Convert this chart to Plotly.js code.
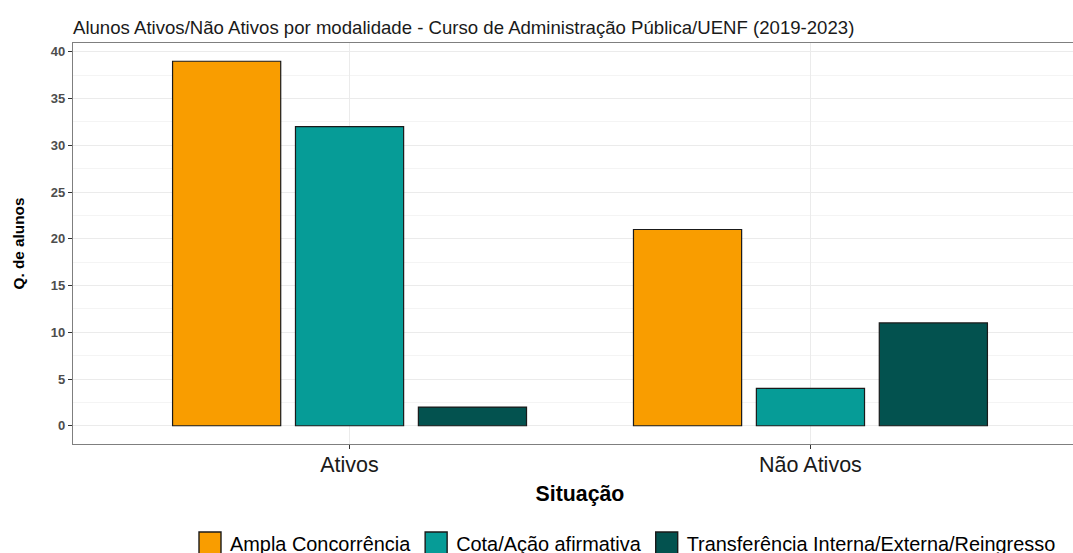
<!DOCTYPE html>
<html>
<head>
<meta charset="utf-8">
<script src="https://cdn.plot.ly/plotly-3.0.1.min.js"></script>
<style>
html, body { margin: 0; padding: 0; overflow: hidden; background: #fff; }
#chart { width: 1088px; height: 553px; }
</style>
</head>
<body>
<div id="chart"></div>
<script>
const categories = ["Ativos", "Não Ativos"];
const seriesNames = ["Ampla Concorrência", "Cota/Ação afirmativa", "Transferência Interna/Externa/Reingresso"];
const amplaConcorrencia = [39, 21];
const cotaAcaoAfirmativa = [32, 4];
const transferencia = [2, 11];
const seriesValues = [amplaConcorrencia, cotaAcaoAfirmativa, transferencia];
const seriesColors = ["#F99D00", "#069C97", "#03524F"];

const traces = seriesNames.map((name, i) => ({
  type: "bar",
  name: name,
  x: categories,
  y: seriesValues[i],
  marker: { color: seriesColors[i], line: { color: "#1A1A1A", width: 1.2 } },
  hoverinfo: "x+y+name"
}));

const layout = {
  width: 1088,
  height: 553,
  paper_bgcolor: "#ffffff",
  plot_bgcolor: "#ffffff",
  font: { family: "Liberation Sans, Arial, sans-serif", color: "#000" },
  margin: { l: 73, r: 1, t: 43, b: 109, autoexpand: false },
  barmode: "group",
  bargap: 0.2,
  bargroupgap: 0.12,
  title: {
    text: "Alunos Ativos/Não Ativos por modalidade - Curso de Administração Pública/UENF (2019-2023)",
    font: { size: 18.6, color: "#1a1a1a" },
    x: 73 / 1088, xref: "container", xanchor: "left",
    y: 1 - 27 / 553, yref: "container", yanchor: "middle"
  },
  xaxis: {
    type: "category",
    range: [-0.6, 1.6],
    showgrid: true,
    gridcolor: "#EBEBEB",
    gridwidth: 1.2,
    showline: true,
    linecolor: "#7F7F7F",
    linewidth: 1.2,
    mirror: true,
    ticks: "outside",
    ticklen: 4,
    tickcolor: "#333333",
    ticklabelstandoff: -3,
    tickfont: { size: 21.5, color: "#1a1a1a" },
    title: { text: "<b>Situação</b>", font: { size: 21.3, color: "#000" }, standoff: 10 },
    zeroline: false,
    fixedrange: true
  },
  yaxis: {
    range: [-1.95, 40.95],
    dtick: 5,
    tick0: 0,
    showgrid: true,
    gridcolor: "#EBEBEB",
    gridwidth: 1.2,
    minor: { dtick: 2.5, showgrid: true, gridcolor: "#F4F4F4", gridwidth: 0.8, ticks: "" },
    showline: true,
    linecolor: "#7F7F7F",
    linewidth: 1.2,
    mirror: false,
    ticks: "outside",
    ticklen: 4,
    tickcolor: "#333333",
    tickfont: { size: 13, color: "#4D4D4D", family: "Liberation Sans, Arial, sans-serif", weight: "bold" },
    title: { text: "<b>Q. de alunos</b>", font: { size: 15.3, color: "#000" }, standoff: 22 },
    zeroline: false,
    fixedrange: true
  },
  showlegend: true,
  legend: {
    orientation: "h",
    x: (190 - 73) / 1014,
    xanchor: "left",
    y: (444 - 543) / 401,
    yanchor: "middle",
    font: { size: 19.9, color: "#000" },
    traceorder: "normal",
    itemwidth: 30
  }
};

function enlargeLegendKeys() {
  document.querySelectorAll("#chart .legend .legendpoints path").forEach(p => {
    p.setAttribute("d", "M11,11H-11V-11H11Z");
    p.style.strokeWidth = "1.4px";
  });
}

Plotly.newPlot("chart", traces, layout, { displayModeBar: false }).then(gd => {
  enlargeLegendKeys();
  gd.on("plotly_afterplot", enlargeLegendKeys);
});
</script>
</body>
</html>
